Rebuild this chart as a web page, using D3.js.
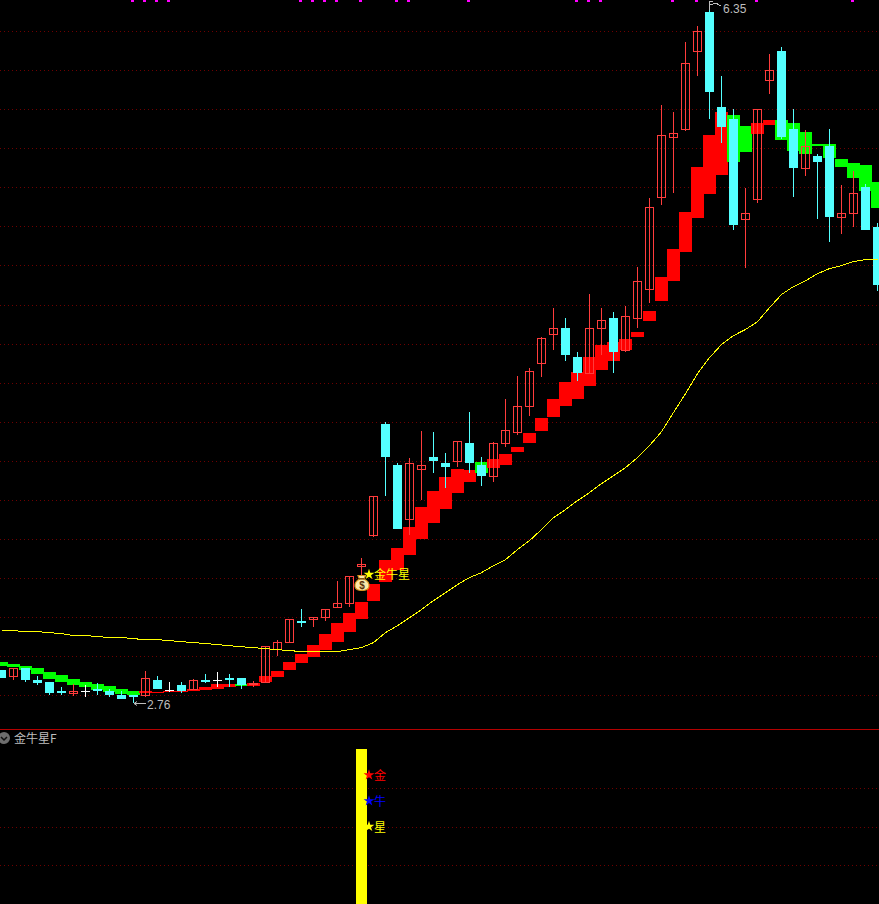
<!DOCTYPE html>
<html>
<head>
<meta charset="utf-8">
<script src="https://cdnjs.cloudflare.com/ajax/libs/d3/7.8.5/d3.min.js"></script>
<style>
html,body{margin:0;padding:0;background:#000;overflow:hidden}
svg{display:block}
text{font-family:"Liberation Sans",Arial,sans-serif}
.cjk{font-family:"Noto Sans CJK SC","Noto Sans",sans-serif}
</style>
</head>
<body>
<div id="chart"></div>
<script>
const openPrice = [2.931,2.895,2.941,2.879,2.869,2.823,2.808,2.823,2.833,2.823,2.803,2.803,2.797,2.879,2.828,2.854,2.828,2.879,2.879,2.890,2.890,2.854,2.864,3.033,3.069,3.182,3.187,3.197,3.248,3.268,3.458,3.617,4.190,3.980,3.699,3.955,4.021,3.990,3.996,4.093,3.980,3.919,4.088,4.144,4.277,4.497,4.646,4.682,4.533,4.446,4.677,4.733,4.564,4.728,4.876,5.347,5.654,5.695,6.095,6.300,5.813,5.752,5.235,5.337,5.946,6.100,5.701,5.496,5.562,5.613,5.245,5.265,5.404,5.199];
const closePrice = [2.890,2.941,2.879,2.864,2.813,2.813,2.823,2.823,2.823,2.803,2.782,2.792,2.890,2.833,2.828,2.823,2.879,2.869,2.879,2.879,2.854,2.864,3.053,3.074,3.192,3.171,3.202,3.243,3.274,3.412,3.473,3.821,4.021,3.653,3.990,3.980,4.001,3.970,4.103,3.990,3.924,4.093,4.159,4.282,4.461,4.630,4.682,4.543,4.451,4.682,4.723,4.559,4.743,4.922,5.301,5.670,5.680,6.038,6.202,5.890,5.711,5.209,5.270,5.803,6.003,5.660,5.501,5.613,5.532,5.250,5.270,5.373,5.183,4.902];
const highPrice = [2.931,2.941,2.941,2.900,2.869,2.844,2.859,2.854,2.864,2.833,2.823,2.803,2.926,2.900,2.869,2.869,2.885,2.911,2.921,2.911,2.890,2.874,3.053,3.084,3.192,3.243,3.202,3.243,3.386,3.412,3.504,3.821,4.200,3.990,4.016,4.154,4.149,4.042,4.103,4.252,4.021,4.098,4.318,4.436,4.477,4.635,4.784,4.733,4.559,4.856,4.784,4.764,4.794,4.994,5.347,5.823,5.788,6.146,6.228,6.350,5.972,5.803,5.398,5.803,6.085,6.120,5.803,5.695,5.573,5.701,5.414,5.485,5.419,5.219];
const lowPrice = [2.890,2.879,2.869,2.854,2.803,2.803,2.797,2.792,2.803,2.792,2.782,2.760,2.792,2.833,2.818,2.813,2.828,2.864,2.844,2.844,2.833,2.844,2.864,3.002,3.069,3.151,3.151,3.182,3.248,3.253,3.417,3.612,3.821,3.653,3.622,3.801,3.940,3.862,3.970,3.940,3.873,3.893,4.072,4.134,4.231,4.431,4.569,4.513,4.410,4.446,4.543,4.451,4.559,4.682,4.810,5.311,5.373,5.690,5.972,5.752,5.629,5.183,4.989,5.322,5.880,5.649,5.352,5.460,5.240,5.122,5.163,5.199,5.183,4.871];
const bandTop = [2.972,2.962,2.951,2.941,2.921,2.905,2.885,2.869,2.859,2.849,2.833,2.823,2.823,2.818,2.823,2.823,2.833,2.844,2.859,2.859,2.859,2.864,2.900,2.926,2.972,3.012,3.058,3.115,3.171,3.222,3.279,3.371,3.494,3.555,3.663,3.765,3.847,3.919,3.960,3.955,3.996,4.011,4.037,4.072,4.144,4.221,4.318,4.405,4.456,4.533,4.595,4.610,4.625,4.661,4.769,4.943,5.086,5.276,5.506,5.670,5.788,5.772,5.716,5.731,5.747,5.747,5.731,5.685,5.624,5.624,5.547,5.526,5.516,5.429];
const bandBottom = [2.951,2.946,2.931,2.911,2.885,2.869,2.854,2.844,2.828,2.818,2.808,2.803,2.813,2.813,2.818,2.818,2.823,2.828,2.833,2.844,2.849,2.849,2.869,2.895,2.931,2.967,2.997,3.033,3.074,3.125,3.192,3.284,3.381,3.443,3.519,3.601,3.683,3.755,3.837,3.893,3.940,3.965,3.980,4.047,4.093,4.154,4.226,4.282,4.318,4.385,4.467,4.513,4.569,4.635,4.717,4.820,4.922,5.071,5.245,5.368,5.465,5.532,5.583,5.675,5.721,5.644,5.588,5.573,5.613,5.552,5.506,5.450,5.383,5.296];
const bandDown = [0,1,2,3,4,5,6,7,8,9,10,11,20,40,61,62,65,66,67,68,69,70,71,72,73];
const slowAverage = [3.135,3.135,3.130,3.130,3.125,3.120,3.110,3.110,3.105,3.100,3.100,3.094,3.089,3.089,3.084,3.079,3.074,3.069,3.064,3.058,3.053,3.048,3.043,3.038,3.033,3.028,3.028,3.028,3.028,3.038,3.048,3.074,3.125,3.161,3.202,3.243,3.289,3.330,3.371,3.407,3.432,3.468,3.499,3.550,3.596,3.653,3.714,3.755,3.801,3.842,3.888,3.929,3.970,4.021,4.083,4.154,4.252,4.349,4.451,4.533,4.600,4.646,4.677,4.717,4.789,4.856,4.897,4.927,4.963,4.989,5.004,5.025,5.035,5.035];
const topMarkers = [11,12,13,14,25,26,27,28,30,33,34,39,48,49,50,56,58,63,71];
const priceTicks = [2.8,3.0,3.2,3.4,3.6,3.8,4.0,4.2,4.4,4.6,4.8,5.0,5.2,5.4,5.6,5.8,6.0,6.2];
const lowLabel = "2.76";
const highLabel = "6.35";
const lowIndex = 11;
const highIndex = 59;
const signalIndex = 30;
const signalPrice = 3.42;
const signalName = "金牛星";
const panelTitle = "金牛星F";
const panelTicks = [1,2,3];
const panelBarIndex = [30];
const panelBarValue = [4];
const panelSignalValues = [3.33,2.66,2];
const panelSignalLabels = ["金","牛","星"];
const panelSignalColors = ["#ff0000","#0000ff","#ffff00"];

const W = 879, H = 904;
const svg = d3.select("#chart").append("svg").attr("width",W).attr("height",H).style("background","#000");

const x = d3.scaleLinear().domain([0,73]).range([1,877]);
const floorInterp = (a,b)=>t=>Math.floor(a+(b-a)*t);
const y = d3.scaleLinear().domain([2.8,6.2]).range([695.6,31.6]);
const yPx = y.copy().interpolate((a,b)=>t=>Math.round(a+(b-a)*t));
const yGrid = y.copy().interpolate(floorInterp);
const yLow = d3.scaleLinear().domain([0,4]).range([904,749]);
const yLowGrid = yLow.copy().interpolate((a,b)=>t=>Math.round(a+(b-a)*t));

const GRID = "#6e0000";
function gridAxis(scale, ticks){
  return g=>{
    g.call(d3.axisRight(scale).tickValues(ticks).tickSize(W).tickFormat(""));
    g.select(".domain").remove();
    g.selectAll(".tick line").attr("stroke",GRID).attr("stroke-dasharray","1 3").attr("shape-rendering","crispEdges");
  };
}
svg.append("g").call(gridAxis(yGrid,priceTicks));
svg.append("g").call(gridAxis(yLowGrid,panelTicks));

// thick trend band
const idx = d3.range(openPrice.length);
svg.append("g").selectAll("rect").data(idx).join("rect")
  .attr("x",i=>x(i)-6).attr("width",13)
  .attr("y",i=>yPx(bandTop[i]))
  .attr("height",i=>yPx(bandBottom[i])-yPx(bandTop[i]))
  .attr("fill",i=>bandDown.includes(i)?"#00ff00":"#ff0000")
  .attr("shape-rendering","crispEdges");

// candles
const RED="#ff3c3c", CYAN="#54ffff", WHITE="#ffffff";
const colorOf = i=> closePrice[i]>openPrice[i]?RED:(closePrice[i]<openPrice[i]?CYAN:WHITE);
const candles = svg.append("g").attr("shape-rendering","crispEdges");
candles.selectAll("line.w").data(idx).join("line").attr("class","w")
  .attr("x1",i=>x(i)+.5).attr("x2",i=>x(i)+.5)
  .attr("y1",i=>yPx(highPrice[i])).attr("y2",i=>yPx(lowPrice[i]))
  .attr("stroke",colorOf);
candles.selectAll("rect.b").data(idx.filter(i=>openPrice[i]!==closePrice[i])).join("rect").attr("class","b")
  .each(function(i){
    const top=yPx(Math.max(openPrice[i],closePrice[i])), bot=yPx(Math.min(openPrice[i],closePrice[i]));
    const s=d3.select(this);
    if(closePrice[i]>openPrice[i]){
      s.attr("x",x(i)-3.5).attr("width",8).attr("y",top+.5).attr("height",bot-top-1)
       .attr("fill","#000").attr("fill-opacity",0).attr("stroke",RED);
    } else {
      s.attr("x",x(i)-4).attr("width",9).attr("y",top).attr("height",bot-top).attr("fill",CYAN);
    }
  });
candles.selectAll("line.d").data(idx.filter(i=>openPrice[i]===closePrice[i])).join("line").attr("class","d")
  .attr("x1",i=>x(i)-4).attr("x2",i=>x(i)+5)
  .attr("y1",i=>yPx(openPrice[i])+.5).attr("y2",i=>yPx(openPrice[i])+.5)
  .attr("stroke",WHITE);

// slow average
svg.append("path").datum(slowAverage)
  .attr("d",d3.line().x((d,i)=>x(i)+.5).y(d=>y(d)+.5))
  .attr("fill","none").attr("stroke","#ffff00").attr("stroke-width",1).attr("shape-rendering","crispEdges");

// top markers
svg.append("g").selectAll("rect").data(topMarkers).join("rect")
  .attr("x",k=>x(k)-2).attr("y",0).attr("width",3).attr("height",2)
  .attr("fill","#ff00ff").attr("shape-rendering","crispEdges");

// extreme labels
const GREY="#bdbdbd";
const lx=x(lowIndex), ly=yPx(lowPrice[lowIndex]);
svg.append("path").attr("d",`M${lx+1} ${ly+.5}H${lx+13}M${lx+1} ${ly+.5}l3 -2M${lx+1} ${ly+.5}l3 2`)
  .attr("stroke",GREY).attr("fill","none");
svg.append("text").attr("x",lx+14).attr("y",ly+6).attr("fill",GREY).attr("font-size",12).text(lowLabel);
const hx=x(highIndex), hy=yPx(highPrice[highIndex]);
svg.append("path").attr("d",`M${hx+.5} ${hy-1}V${hy+8}M${hx+.5} ${hy-1}h3M${hx+.5} ${hy+2}h3M${hx+4} ${hy+2}l3 -1l3 2l2 0`)
  .attr("stroke",GREY).attr("fill","none").attr("shape-rendering","crispEdges");
svg.append("text").attr("x",hx+14).attr("y",hy+11).attr("fill",GREY).attr("font-size",12).text(highLabel);

// signal: money bag, star, name
const sx=x(signalIndex), sy=y(signalPrice);
const bag=svg.append("g").attr("transform",`translate(${sx+1},${sy+9.5})`);
bag.append("path").attr("d","M-4 -8.5H3.5L2 -5C6 -3 7.5 -0.5 7 2.5C6.5 5.5 3 6.5 0 6.5C-3 6.5 -6.5 5.5 -7 2.5C-7.5 -0.5 -6 -3 -2.5 -5Z")
  .attr("fill","#fbe9a8").attr("stroke","#d9941f").attr("stroke-width",1.2);
bag.append("rect").attr("x",-3).attr("y",-6).attr("width",5.5).attr("height",1.6).attr("fill","#8a5410");
bag.append("text").attr("text-anchor","middle").attr("y",4.8).attr("font-size",10).attr("font-weight","bold").attr("fill","#5a3208").text("$");
const star=d3.symbol().type(d3.symbolStar);
svg.append("path").attr("d",star.size(36)()).attr("fill","#ffff00").attr("transform",`translate(${sx+8},${sy})`);
svg.append("text").attr("class","cjk").attr("x",sx+13).attr("y",sy+4.5).attr("fill","#ffff00").attr("font-size",12).text(signalName);

// lower panel
svg.append("line").attr("x1",0).attr("x2",W).attr("y1",729.5).attr("y2",729.5).attr("stroke","#b40000").attr("shape-rendering","crispEdges");
const ic=svg.append("g").attr("transform","translate(4,738)");
ic.append("circle").attr("r",6).attr("fill","#6e6e6e");
ic.append("path").attr("d","M-3 -1L0 2L3 -1").attr("fill","none").attr("stroke","#111").attr("stroke-width",1.5);
svg.append("text").attr("class","cjk").attr("x",14).attr("y",743).attr("fill",GREY).attr("font-size",12).text(panelTitle);

svg.append("g").selectAll("rect").data(panelBarIndex).join("rect")
  .attr("x",k=>x(k)-5).attr("width",11)
  .attr("y",(k,i)=>yLow(panelBarValue[i])).attr("height",(k,i)=>yLow(0)-yLow(panelBarValue[i]))
  .attr("fill","#ffff00").attr("shape-rendering","crispEdges");
const px=x(panelBarIndex[0]);
svg.append("g").selectAll("path").data(panelSignalValues).join("path")
  .attr("d",star.size(36)()).attr("fill",(d,i)=>panelSignalColors[i])
  .attr("transform",d=>`translate(${px+8},${yLow(d)})`);
svg.append("g").selectAll("text").data(panelSignalValues).join("text")
  .attr("class","cjk").attr("x",px+13).attr("y",d=>yLow(d)+5)
  .attr("font-size",12).attr("fill",(d,i)=>panelSignalColors[i]).text((d,i)=>panelSignalLabels[i]);
</script>
</body>
</html>
